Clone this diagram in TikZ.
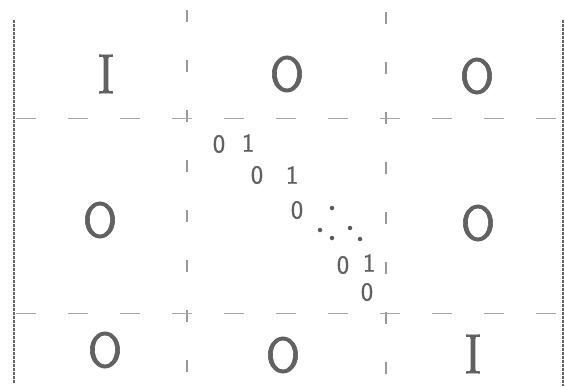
\documentclass[tikz,border=0pt]{standalone}
\usepackage{fontspec}
\setmainfont{Latin Modern Sans}
\newfontfamily\handsans[FakeBold=1.2]{Latin Modern Sans}
\newfontfamily\handserif[FakeBold=1.5]{Latin Modern Roman}
\begin{document}
\begin{tikzpicture}[x=1pt,y=-1pt,
  ink/.style={text=black!62},
  big/.style={ink,font=\handsans\fontsize{50}{50}\selectfont,inner sep=0pt},
  bigI/.style={ink,font=\handserif\fontsize{56}{56}\selectfont,inner sep=0pt},
  small/.style={ink,font=\handsans\fontsize{26}{26}\selectfont,inner sep=0pt},
  border/.style={draw=black!60,line width=1.8pt,dash pattern=on 3pt off 1pt},
  vgrid/.style={draw=black!40,line width=1.1pt,dash pattern=on 12pt off 38pt},
  hgrid/.style={draw=black!35,line width=1pt,dash pattern=on 20pt off 32pt},
  dotmark/.style={circle,fill=black!65,inner sep=0pt,minimum size=4.5pt}]
\useasboundingbox (0,0) rectangle (565,386);
% borders
\coordinate (lt) at (14,20); \coordinate (lb) at (14,384);
\coordinate (rt) at (563,20); \coordinate (rb) at (563,386);
\draw[border] (lt) -- (lb);
\draw[border] (rt) -- (rb);
% dashed grid
\coordinate (v1t) at (187,10); \coordinate (v1b) at (187,386);
\coordinate (v2t) at (386,12); \coordinate (v2b) at (386,386);
\coordinate (h1l) at (16,118); \coordinate (h1r) at (560,118);
\coordinate (h2l) at (16,313); \coordinate (h2r) at (560,313);
\draw[vgrid] (v1t) -- (v1b);
\draw[vgrid] (v2t) -- (v2b);
\draw[hgrid] (h1l) -- (h1r);
\draw[hgrid] (h2l) -- (h2r);
% block entries
\node[bigI] (i1) at (106,74) {I};
\node[big] (o12) at (287,74) {O};
\node[big] (o13) at (477,76) {O};
\node[big] (o21) at (100,220) {O};
\node[big] (o23) at (478,223) {O};
\node[big] (o31) at (105,350) {O};
\node[big] (o32) at (283,355) {O};
\node[bigI] (i3) at (473,354) {I};
% diagonal band
\node[small] (d1) at (219,144) {0};
\node[small] (e1) at (248,143) {1};
\node[small] (d2) at (257,175) {0};
\node[small] (e2) at (292,175) {1};
\node[small] (d3) at (297,210) {0};
\node[dotmark] (p1) at (332,208) {};
\node[dotmark] (p2) at (320,230) {};
\node[dotmark] (p3) at (350,228) {};
\node[dotmark] (p4) at (332,238) {};
\node[dotmark] (p5) at (360,239) {};
\node[small] (d4) at (343,265) {0};
\node[small] (e4) at (369,263) {1};
\node[small] (d5) at (367,292) {0};
\end{tikzpicture}
\end{document}
